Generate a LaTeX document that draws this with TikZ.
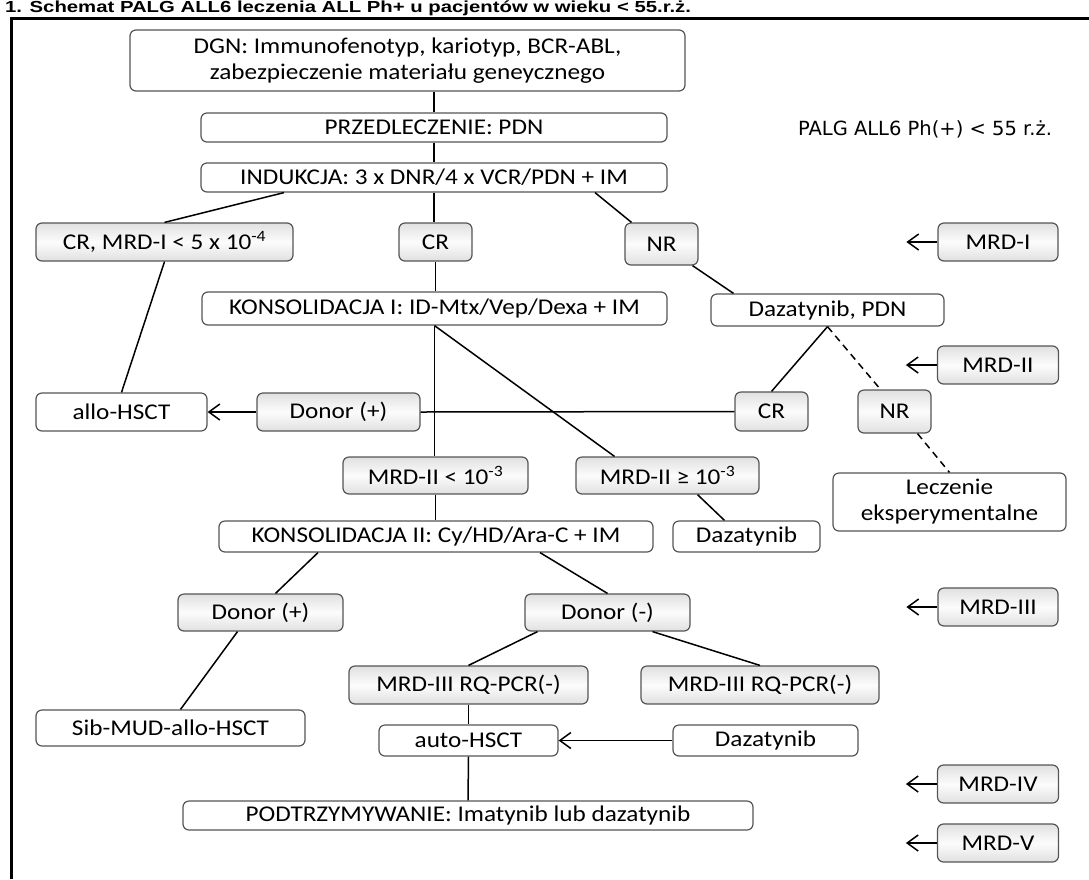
\documentclass[tikz,border=0pt]{standalone}
\usepackage{fontspec}
\setmainfont{Carlito}[FakeStretch=1.12]
\newfontfamily\palgfont{DejaVu Sans}
\newfontfamily\capfont{Liberation Sans}[FakeStretch=1.27]
\usetikzlibrary{arrows.meta,calc}
\definecolor{bxedge}{HTML}{555555}
\definecolor{bxgray}{HTML}{E0E0E0}

\begin{document}
\begin{tikzpicture}[x=1pt,y=-1pt,
 box/.style={draw=bxedge,line width=1.2pt,rounded corners=6pt,fill=white,inner sep=2pt,align=center,font=\fontsize{22.5}{26}\selectfont},
 gbox/.style={box,top color=bxgray,bottom color=bxgray,middle color=white!90!bxgray},
 sz/.style 2 args={minimum width=#1pt,minimum height=#2pt},
 link/.style={line width=1.5pt},
 dlink/.style={line width=1.5pt,dash pattern=on 7pt off 5pt},
 arr/.style={line width=1.5pt,-{Straight Barb[length=11pt,width=16pt]}}
]
\useasboundingbox (0,0) rectangle (1089,879);
\clip (0,0) rectangle (1089,879);

\node[anchor=base west,inner sep=0pt,font=\capfont\bfseries\fontsize{16}{19}\selectfont] (title) at (5,12.5)
  {1. Schemat PALG ALL6 leczenia ALL Ph+ u pacjentów w wieku < 55.r.ż.};
\draw[line width=3pt] (11,879) -- (11,18.5) -- (1089,18.5);

\node[box,sz={555}{61}] (dgn) at (407.5,60.5) {DGN: Immunofenotyp, kariotyp, BCR-ABL,\\zabezpieczenie materiału geneycznego};
\node[box,sz={466}{29}] (pre) at (434,127.5) {PRZEDLECZENIE: PDN};
\node[box,sz={466}{29}] (ind) at (434,177.5) {INDUKCJA: 3 x DNR/4 x VCR/PDN + IM};
\node[font=\palgfont\fontsize{19.5}{23}\selectfont] (palg) at (925,129) {PALG ALL6 Ph(+) < 55 r.ż.};
\node[gbox,sz={257}{38}] (crmrd) at (164.5,242) {CR, MRD-I < 5 x 10\textsuperscript{-4}};
\node[gbox,sz={73}{38}] (cra) at (435.5,242) {CR};
\node[gbox,sz={73}{42}] (nra) at (661.5,244) {NR};
\node[gbox,sz={120}{38}] (mrdi) at (998,242) {MRD-I};
\node[box,sz={465}{33}] (kons1) at (434.5,308.5) {KONSOLIDACJA I: ID-Mtx/Vep/Dexa + IM};
\node[box,sz={233}{32}] (dazpdn) at (827.5,310) {Dazatynib, PDN};
\node[gbox,sz={121}{38}] (mrdii) at (998,365) {MRD-II};
\node[box,sz={171}{38}] (allo) at (121.5,412) {allo-HSCT};
\node[gbox,sz={163}{38}] (donp) at (338.5,412) {Donor (+)};
\node[gbox,sz={73}{39}] (crb) at (771.5,411.5) {CR};
\node[gbox,sz={73}{43}] (nrb) at (894.5,411.5) {NR};
\node[gbox,sz={185}{37}] (mrdlo) at (435.5,475.5) {MRD-II < 10\textsuperscript{-3}};
\node[gbox,sz={183}{37}] (mrdhi) at (667.5,475.5) {MRD-II ≥ 10\textsuperscript{-3}};
\node[box,sz={233}{58}] (lecz) at (949.5,502) {Leczenie\\eksperymentalne};
\node[box,sz={434}{31}] (kons2) at (436,536.5) {KONSOLIDACJA II: Cy/HD/Ara-C + IM};
\node[box,sz={147}{31}] (dazb) at (746.5,536.5) {Dazatynib};
\node[gbox,sz={120}{38}] (mrdiii) at (998,607) {MRD-III};
\node[gbox,sz={165}{37}] (donp2) at (260.5,612.5) {Donor (+)};
\node[gbox,sz={165}{37}] (donm) at (607.5,612.5) {Donor (-)};
\node[gbox,sz={239}{38}] (rqa) at (468.5,685) {MRD-III RQ-PCR(-)};
\node[gbox,sz={238}{38}] (rqb) at (760,685) {MRD-III RQ-PCR(-)};
\node[box,sz={269}{36}] (sib) at (170.5,728) {Sib-MUD-allo-HSCT};
\node[box,sz={179}{31}] (auto) at (468.5,740.5) {auto-HSCT};
\node[box,sz={185}{31}] (dazc) at (765.5,740.5) {Dazatynib};
\node[gbox,sz={121}{38}] (mrdiv) at (998,784) {MRD-IV};
\node[box,sz={570}{29}] (podt) at (468,815.5) {PODTRZYMYWANIE: Imatynib lub dazatynib};
\node[gbox,sz={121}{38}] (mrdv) at (998,843) {MRD-V};

\draw[link] (pre.north |- dgn.south) -- (pre.north);
\draw[link] (pre.south) -- (ind.north);
\draw[link] ($(ind.south)+(-150,0)$) -- (crmrd.north);
\draw[link] (ind.south) -- (ind.south |- cra.north);
\draw[link] ($(ind.south)+(161,0)$) -- ($(nra.north)+(-30,0)$);
\draw[link] (crmrd.south) -- (allo.north);
\draw[link] (cra.south) -- (cra.south |- kons1.north);
\draw[link] ($(nra.south)+(31,0)$) -- ($(dazpdn.north)+(-94,0)$);
\draw[link] (kons1.south) -- (kons1.south |- mrdlo.north);
\draw[link] (kons1.south) -- ($(mrdhi.north)+(-53,0)$);
\draw[link] (dazpdn.south) -- (crb.north);
\draw[dlink] (dazpdn.south) -- ($(nrb.north)+(-14,0)$);
\draw[dlink] ($(nrb.south)+(23,0)$) -- (lecz.north);
\draw[link] (crb.west) -- (donp.east);
\draw[arr] (donp.west) -- (allo.east);
\draw[link] ($(mrdhi.south)+(30,0)$) -- ($(dazb.north)+(-22,0)$);
\draw[link] (mrdlo.south) -- (mrdlo.south |- kons2.north);
\draw[link] ($(kons2.south)+(-118,0)$) -- ($(donp2.north)+(15,0)$);
\draw[link] ($(kons2.south)+(104,0)$) -- (donm.north);
\draw[link] ($(donp2.south)+(-23,0)$) -- ($(sib.north)+(10,0)$);
\draw[link] ($(donm.south)+(-70,0)$) -- (rqa.north);
\draw[link] ($(donm.south)+(45,0)$) -- (rqb.north);
\draw[link] (rqa.south) -- (auto.north);
\draw[arr] (dazc.west) -- (auto.east);
\draw[link] (auto.south) -- (podt.north);
\foreach \m in {mrdi,mrdii,mrdiii,mrdiv,mrdv}{
  \coordinate (\m tip) at ($(\m.west)+(-31,0)$);
  \draw[arr] (\m.west) -- (\m tip);
}
\end{tikzpicture}
\end{document}
